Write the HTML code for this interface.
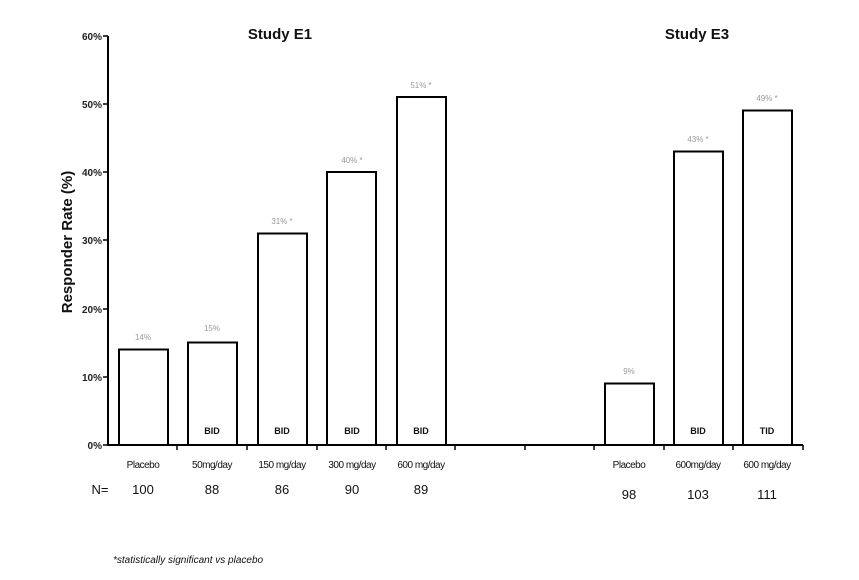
<!DOCTYPE html>
<html><head><style>body{margin:0;background:#fff}</style></head><body>
<svg width="859" height="575" xmlns="http://www.w3.org/2000/svg" font-family="Liberation Sans, sans-serif">
<rect width="859" height="575" fill="#fff"/>
<g stroke="#000" stroke-width="2" fill="none">
<line x1="108" y1="36" x2="108" y2="446"/>
<line x1="107" y1="445" x2="803" y2="445"/>
</g>
<g stroke="#000" stroke-width="1.5">
<line x1="103" y1="36" x2="108" y2="36"/><line x1="103" y1="104" x2="108" y2="104"/>
<line x1="103" y1="172" x2="108" y2="172"/><line x1="103" y1="240" x2="108" y2="240"/>
<line x1="103" y1="309" x2="108" y2="309"/><line x1="103" y1="377" x2="108" y2="377"/>
<line x1="103" y1="445" x2="108" y2="445"/>
<line x1="177" y1="445" x2="177" y2="450"/><line x1="247" y1="445" x2="247" y2="450"/>
<line x1="317" y1="445" x2="317" y2="450"/><line x1="386" y1="445" x2="386" y2="450"/>
<line x1="455" y1="445" x2="455" y2="450"/><line x1="525" y1="445" x2="525" y2="450"/>
<line x1="594" y1="445" x2="594" y2="450"/><line x1="664" y1="445" x2="664" y2="450"/>
<line x1="733" y1="445" x2="733" y2="450"/><line x1="803" y1="445" x2="803" y2="450"/>
</g>
<g font-size="10" font-weight="bold" text-anchor="end" fill="#222">
<text x="102" y="40">60%</text><text x="102" y="108">50%</text><text x="102" y="176">40%</text>
<text x="102" y="244">30%</text><text x="102" y="313">20%</text><text x="102" y="381">10%</text>
<text x="102" y="449">0%</text>
</g>
<g stroke="#000" stroke-width="2" fill="#fff">
<rect x="119" y="349.5" width="49" height="95.5"/>
<rect x="188" y="342.5" width="49" height="102.5"/>
<rect x="258" y="233.5" width="49" height="211.5"/>
<rect x="327" y="172" width="49" height="273"/>
<rect x="397" y="97" width="49" height="348"/>
<rect x="605" y="383.5" width="49" height="61.5"/>
<rect x="674" y="151.5" width="49" height="293.5"/>
<rect x="743" y="110.5" width="49" height="334.5"/>
</g>
<g font-size="8" fill="#999" text-anchor="middle">
<text x="143" y="340">14%</text><text x="212" y="331">15%</text><text x="282" y="224">31% *</text>
<text x="352" y="163">40% *</text><text x="421" y="88">51% *</text><text x="629" y="374">9%</text>
<text x="698" y="142">43% *</text><text x="767" y="101">49% *</text>
</g>
<g font-size="9" font-weight="bold" text-anchor="middle" fill="#111">
<text x="212" y="434">BID</text><text x="282" y="434">BID</text><text x="352" y="434">BID</text>
<text x="421" y="434">BID</text><text x="698" y="434">BID</text><text x="767" y="434">TID</text>
</g>
<g font-size="10" text-anchor="middle" fill="#111" letter-spacing="-0.5">
<text x="143" y="468">Placebo</text><text x="212" y="468">50mg/day</text><text x="282" y="468">150 mg/day</text>
<text x="352" y="468">300 mg/day</text><text x="421" y="468">600 mg/day</text>
<text x="629" y="468">Placebo</text><text x="698" y="468">600mg/day</text><text x="767" y="468">600 mg/day</text>
</g>
<g font-size="13" text-anchor="middle" fill="#111">
<text x="100" y="494">N=</text><text x="143" y="494">100</text><text x="212" y="494">88</text>
<text x="282" y="494">86</text><text x="352" y="494">90</text><text x="421" y="494">89</text>
<text x="629" y="499">98</text><text x="698" y="499">103</text><text x="767" y="499">111</text>
</g>
<g font-size="15" font-weight="bold" text-anchor="middle" fill="#111">
<text x="280" y="39">Study E1</text><text x="697" y="39">Study E3</text>
<text transform="translate(72,242) rotate(-90)">Responder Rate (%)</text>
</g>
<text x="113" y="563" font-size="10" font-style="italic" fill="#111">*statistically significant vs placebo</text>
</svg>
</body></html>
